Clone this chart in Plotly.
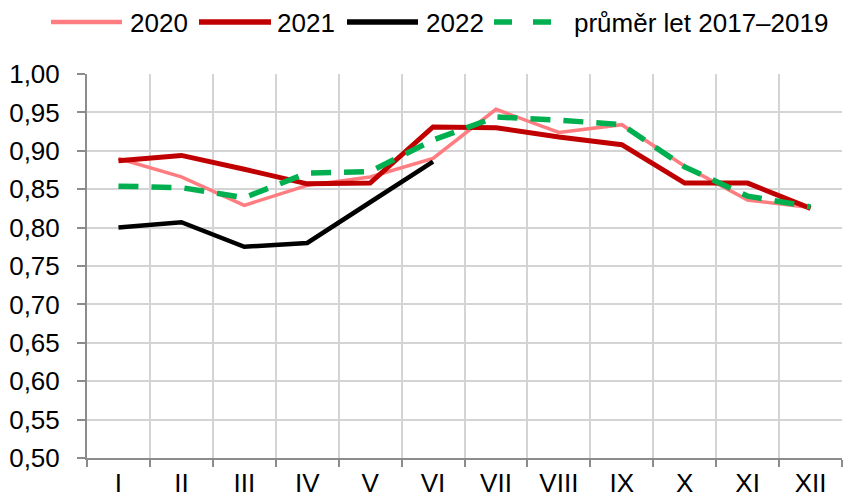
import plotly.graph_objects as go

months = ["I", "II", "III", "IV", "V", "VI", "VII", "VIII", "IX", "X", "XI", "XII"]
y2020 = [0.890, 0.866, 0.829, 0.855, 0.866, 0.890, 0.954, 0.924, 0.934, 0.880, 0.836, 0.826]
y2021 = [0.887, 0.894, 0.876, 0.857, 0.858, 0.931, 0.930, 0.918, 0.908, 0.858, 0.858, 0.825]
y2022 = [0.800, 0.807, 0.775, 0.780, 0.833, 0.886]
yavg = [0.854, 0.852, 0.839, 0.871, 0.873, 0.914, 0.944, 0.940, 0.934, 0.879, 0.841, 0.827]
yticks = [0.50, 0.55, 0.60, 0.65, 0.70, 0.75, 0.80, 0.85, 0.90, 0.95, 1.00]
series_names = ["2020", "2021", "2022", "průměr let 2017–2019"]
series_colors = ["#ff7c80", "#c00000", "#000000", "#00b050"]

W, H = 843, 499
L, R, T, B = 87, 1, 74, 41
PW, PH = W - L - R, H - T - B
FONT = "Liberation Sans, Arial, sans-serif"

fig = go.Figure()
fig.add_trace(go.Scatter(x=months, y=y2020, name=series_names[0], mode="lines",
                         line=dict(color=series_colors[0], width=3.5)))
fig.add_trace(go.Scatter(x=months, y=y2021, name=series_names[1], mode="lines",
                         line=dict(color=series_colors[1], width=5)))
fig.add_trace(go.Scatter(x=months[:len(y2022)], y=y2022, name=series_names[2], mode="lines",
                         line=dict(color=series_colors[2], width=4.5)))
fig.add_trace(go.Scatter(x=months, y=yavg, name=series_names[3], mode="lines",
                         line=dict(color=series_colors[3], width=5.5, dash="20px,13px")))

# custom legend (long line samples as in the original)
def px2x(px):
    return (px - L) / PW

def py2y(py):
    return (H - B - py) / PH

legend_items = [
    (51, 122, 128, "solid", 4.5),
    (199, 271, 275, "solid", 5.5),
    (347, 418, 424, "solid", 5.5),
    (494, 553, 572, "18px,21px", 5.5),
]
shapes = []
annotations = []
ly = py2y(22)
for (x0, x1, tx, dash, w), name, col in zip(legend_items, series_names, series_colors):
    shapes.append(dict(type="line", xref="paper", yref="paper",
                       x0=px2x(x0), x1=px2x(x1), y0=ly, y1=ly,
                       line=dict(color=col, width=w, dash=dash)))
    annotations.append(dict(xref="paper", yref="paper", x=px2x(tx), y=py2y(23),
                            xanchor="left", yanchor="middle", showarrow=False,
                            text=name, font=dict(family=FONT, size=26, color="#000000")))

fig.update_layout(
    width=W, height=H,
    margin=dict(l=L, r=R, t=T, b=B),
    paper_bgcolor="white", plot_bgcolor="white",
    separators=", ",
    font=dict(family=FONT, size=26, color="#000000"),
    showlegend=False,
    shapes=shapes,
    annotations=annotations,
    xaxis=dict(type="category", tickson="boundaries", showgrid=True,
               gridcolor="#d4d4d4", gridwidth=1.5,
               showline=True, linecolor="#8c8c8c", linewidth=2,
               ticks="outside", ticklen=7, tickcolor="#8c8c8c", tickwidth=1.5,
               tickfont=dict(size=26), range=[-0.5, 11.5], automargin=False,
               ticklabelstandoff=1),
    yaxis=dict(range=[0.5, 1.0], tickvals=yticks, tickformat=".2f",
               showgrid=True, gridcolor="#d4d4d4", gridwidth=1.5,
               showline=True, linecolor="#8c8c8c", linewidth=2,
               ticks="outside", ticklen=8, tickcolor="#8c8c8c", tickwidth=1.5,
               tickfont=dict(size=26), zeroline=False, automargin=False,
               ticklabelstandoff=12),
)

fig.write_html("out.html", config={"displayModeBar": False},
               post_script="document.body.style.margin='0';document.body.style.overflow='hidden';")
